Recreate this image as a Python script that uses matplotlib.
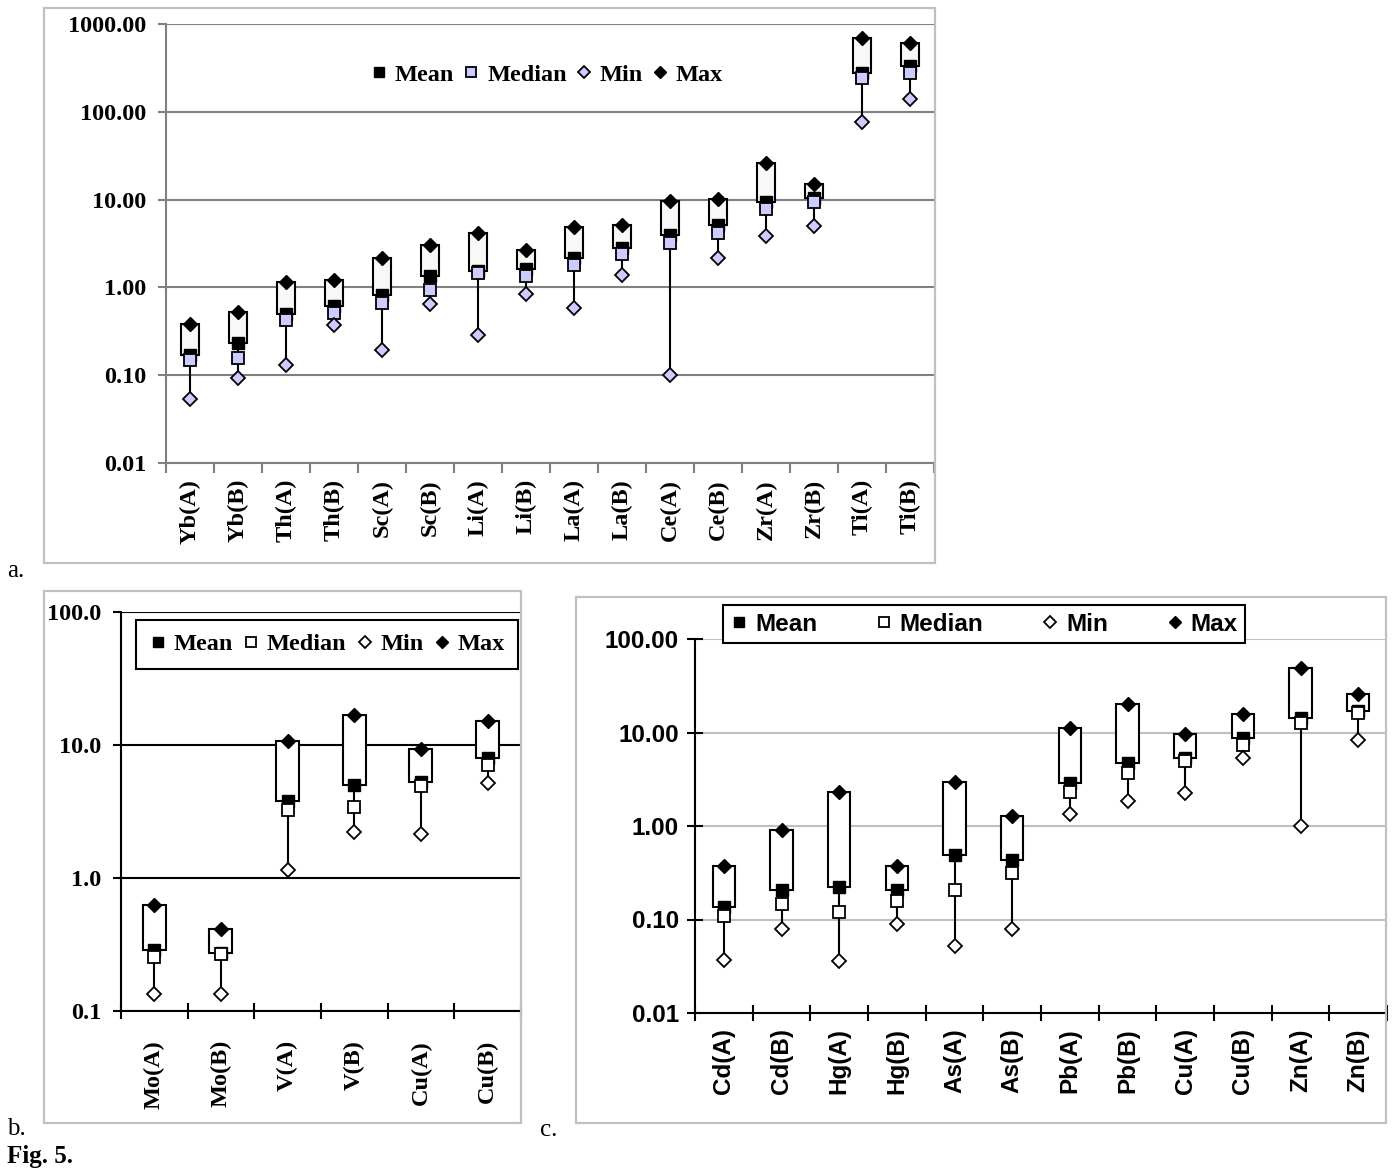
import numpy as np
import matplotlib as mpl

mpl.use("Agg")

import matplotlib.pyplot as plt
from matplotlib.patches import Rectangle
from matplotlib.ticker import FixedLocator, NullLocator, FuncFormatter

W, H = 1398, 1175
PT = 0.72  # points per pixel at dpi=100

# --- a. rare / lithophile elements ---
a_labels = ["Yb(A)", "Yb(B)", "Th(A)", "Th(B)", "Sc(A)", "Sc(B)", "Li(A)", "Li(B)",
            "La(A)", "La(B)", "Ce(A)", "Ce(B)", "Zr(A)", "Zr(B)", "Ti(A)", "Ti(B)"]
a_mean = [0.169, 0.235, 0.50, 0.61, 0.82, 1.35, 1.53, 1.63,
          2.17, 2.83, 4.0, 5.2, 9.3, 10.4, 280, 336]
a_median = [0.148, 0.155, 0.42, 0.515, 0.67, 0.93, 1.47, 1.35,
            1.82, 2.37, 3.22, 4.17, 7.8, 9.3, 245, 275]
a_min = [0.053, 0.094, 0.13, 0.37, 0.196, 0.65, 0.285, 0.85,
         0.59, 1.37, 0.10, 2.17, 3.83, 4.97, 75.7, 140]
a_max = [0.386, 0.53, 1.15, 1.2, 2.14, 3.08, 4.17, 2.7,
         4.84, 5.1, 9.75, 10.2, 26, 15.1, 687, 613]

# --- b. Mo, V, Cu ---
b_labels = ["Mo(A)", "Mo(B)", "V(A)", "V(B)", "Cu(A)", "Cu(B)"]
b_mean = [0.287, 0.271, 3.8, 5.0, 5.3, 8.0]
b_median = [0.256, 0.27, 3.25, 3.39, 4.93, 7.08]
b_min = [0.134, 0.134, 1.15, 2.21, 2.14, 5.22]
b_max = [0.629, 0.414, 10.8, 16.8, 9.28, 15.1]

# --- c. heavy metals ---
c_labels = ["Cd(A)", "Cd(B)", "Hg(A)", "Hg(B)", "As(A)", "As(B)",
            "Pb(A)", "Pb(B)", "Cu(A)", "Cu(B)", "Zn(A)", "Zn(B)"]
c_mean = [0.135, 0.208, 0.22, 0.208, 0.489, 0.432, 2.91, 4.7, 5.3, 8.7, 14.3, 17.1]
c_median = [0.108, 0.148, 0.12, 0.157, 0.208, 0.311, 2.33, 3.67, 5.0, 7.4, 12.6, 16.0]
c_min = [0.037, 0.079, 0.036, 0.089, 0.052, 0.079, 1.35, 1.85, 2.24, 5.3, 1.0, 8.3]
c_max = [0.37, 0.91, 2.3, 0.37, 2.94, 1.29, 11.3, 20.1, 9.6, 15.9, 49, 26]

SERIF = ["Liberation Serif", "DejaVu Serif"]
SANS = ["Liberation Sans", "DejaVu Sans"]
FS = 17.5


def px_rect(x0, y0, x1, y1):
    """Pixel box (top-left origin) -> figure-fraction [left, bottom, w, h]."""
    return [x0 / W, 1 - y1 / H, (x1 - x0) / W, (y1 - y0) / H]


def frame(fig, x0, y0, x1, y1):
    l, b, w, h = px_rect(x0, y0, x1, y1)
    fig.add_artist(Rectangle((l, b), w, h, transform=fig.transFigure,
                             fill=False, edgecolor="#c0c0c0", linewidth=1.6))


def draw_panel(ax, labels, mean, median, vmin, vmax, *, ylim, yfmt, family,
               axis_color, grid_color, box_fc, med_fc, box_w,
               ytick_dir, ytick_len, ytick_pad, xtick_dir, xtick_len, xlab_pad):
    n = len(labels)
    x = np.arange(n)
    mean = np.asarray(mean)
    vmax = np.asarray(vmax)

    ax.set_yscale("log")
    ax.set_ylim(*ylim)
    ax.set_xlim(-0.5, n - 0.5)

    ax.vlines(x, vmin, mean, color="black", linewidth=1.5, zorder=2)
    ax.bar(x, vmax - mean, bottom=mean, width=box_w, facecolor=box_fc,
           edgecolor="black", linewidth=1.5, zorder=3)
    ax.plot(x, mean, ls="none", marker="s", ms=8.5, mfc="black", mec="black",
            zorder=4, label="Mean")
    ax.plot(x, median, ls="none", marker="s", ms=8.5, mfc=med_fc, mec="black",
            mew=1.3, zorder=5, label="Median")
    ax.plot(x, vmin, ls="none", marker="D", ms=6.8, mfc=med_fc, mec="black",
            mew=1.3, zorder=5, label="Min")
    ax.plot(x, vmax, ls="none", marker="D", ms=6.8, mfc="black", mec="black",
            zorder=6, label="Max")

    decades = 10.0 ** np.arange(np.log10(ylim[0]), np.log10(ylim[1]) + 0.5)
    ax.yaxis.set_major_locator(FixedLocator(decades))
    ax.yaxis.set_minor_locator(NullLocator())
    ax.yaxis.set_major_formatter(FuncFormatter(lambda v, _: yfmt.format(v)))
    ax.yaxis.grid(True, color=grid_color, linewidth=1.5)
    ax.set_axisbelow(True)

    ax.set_xticks(x)
    ax.set_xticklabels(labels, rotation=90, va="top", ha="center")
    ax.xaxis.set_minor_locator(FixedLocator(np.arange(n + 1) - 0.5))
    ax.tick_params(axis="x", which="major", length=0, pad=xlab_pad * PT)
    ax.tick_params(axis="x", which="minor", length=xtick_len * PT, width=1.5,
                   color=axis_color, direction=xtick_dir)
    ax.tick_params(axis="y", which="major", length=ytick_len * PT, width=1.5,
                   color=axis_color, direction=ytick_dir, pad=ytick_pad * PT)
    for lab in ax.get_xticklabels() + ax.get_yticklabels():
        lab.set_family(family)
        lab.set_fontweight("bold")
        lab.set_fontsize(FS)

    for side in ("top", "right"):
        ax.spines[side].set_visible(False)
    for side in ("left", "bottom"):
        ax.spines[side].set_color(axis_color)
        ax.spines[side].set_linewidth(1.5)
        ax.spines[side].set_zorder(1)


fig = plt.figure(figsize=(W / 100, H / 100), dpi=100)

# panel frames
frame(fig, 44, 8, 935, 563)
frame(fig, 44, 591, 521, 1123)
frame(fig, 576, 597, 1386, 1123)

# a.
ax_a = fig.add_axes(px_rect(166, 24, 934, 463))
draw_panel(ax_a, a_labels, a_mean, a_median, a_min, a_max,
           ylim=(0.01, 1000), yfmt="{:.2f}", family=SERIF,
           axis_color="#808080", grid_color="#808080", box_fc="#f8f8f8",
           med_fc="#ccccff", box_w=0.38,
           ytick_dir="out", ytick_len=8, ytick_pad=12,
           xtick_dir="out", xtick_len=10, xlab_pad=16)
ax_a.legend(loc="center", bbox_to_anchor=(0.495, 0.884), ncol=4, frameon=False,
            handlelength=0.8, handletextpad=0.25, columnspacing=0.3,
            markerscale=0.85, prop=dict(family=SERIF, weight="bold", size=FS))

# b.
ax_b = fig.add_axes(px_rect(121, 612, 521, 1011))
draw_panel(ax_b, b_labels, b_mean, b_median, b_min, b_max,
           ylim=(0.1, 100), yfmt="{:.1f}", family=SERIF,
           axis_color="black", grid_color="black", box_fc="white",
           med_fc="white", box_w=0.345,
           ytick_dir="out", ytick_len=8, ytick_pad=12,
           xtick_dir="inout", xtick_len=16, xlab_pad=29)
leg_b = ax_b.legend(loc="center", bbox_to_anchor=(0.515, 0.919), ncol=4,
                    fancybox=False, framealpha=1, edgecolor="black",
                    handlelength=0.7, handletextpad=0.3, columnspacing=0.4,
                    borderpad=0.55, borderaxespad=0, markerscale=0.85,
                    prop=dict(family=SERIF, weight="bold", size=FS))
leg_b.get_frame().set_linewidth(1.5)

# c.
ax_c = fig.add_axes(px_rect(695, 639, 1387, 1013))
draw_panel(ax_c, c_labels, c_mean, c_median, c_min, c_max,
           ylim=(0.01, 100), yfmt="{:.2f}", family=SANS,
           axis_color="black", grid_color="#c0c0c0", box_fc="white",
           med_fc="white", box_w=0.39,
           ytick_dir="inout", ytick_len=16, ytick_pad=8,
           xtick_dir="inout", xtick_len=16, xlab_pad=15)
leg_c = ax_c.legend(loc="center", bbox_to_anchor=(0.418, 1.040), ncol=4,
                    fancybox=False, framealpha=1, edgecolor="black",
                    handlelength=0.7, handletextpad=0.3, columnspacing=2.4,
                    borderpad=0.3, borderaxespad=0, markerscale=0.85,
                    prop=dict(family=SANS, weight="bold", size=FS))
leg_c.get_frame().set_linewidth(1.5)
leg_c.set_zorder(10)


def fig_label(x, y, s, bold=False):
    fig.text(x / W, 1 - y / H, s, family=SERIF, fontsize=18,
             fontweight="bold" if bold else "normal", va="baseline", ha="left")


fig_label(7, 577, "a.")
fig_label(7, 1135, "b.")
fig_label(540, 1136, "c.")
fig_label(7, 1163, "Fig. 5.", bold=True)

fig.savefig("out.png", dpi=100, facecolor="white")
